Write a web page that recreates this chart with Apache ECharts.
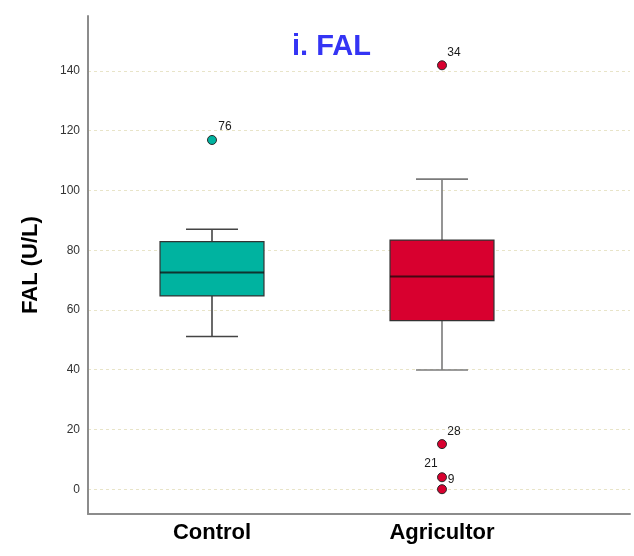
<!DOCTYPE html>
<html>
<head>
<meta charset="utf-8">
<script src="https://cdn.jsdelivr.net/npm/echarts@6/dist/echarts.min.js"></script>
<style>html,body{margin:0;padding:0;background:#fff}#c{width:634px;height:556px}</style>
</head>
<body>
<div id="c"></div>
<script>
// ---- data ----
const categories = ['Control', 'Agricultor'];
// [lower whisker, Q1, median, Q3, upper whisker]
const boxControl = [51.1, 64.7, 72.5, 82.9, 87.0];
const boxAgricultor = [39.9, 56.4, 71.2, 83.4, 103.8];
// outliers: [categoryIndex, value, case label]
const outliersControl = [[0, 116.9, '76']];
const outliersAgricultor = [[1, 141.9, '34'], [1, 15.1, '28'], [1, 4.0, '21'], [1, 0.0, '9']];
const yTickLabels = [0, 20, 40, 60, 80, 100, 120, 140];

// ---- styles ----
const fillColors = ['#00b3a0', '#d8002f'];
const whiskerColors = ['#444444', '#7a7a7a'];
const FONT = 'Liberation Sans, Arial, sans-serif';
const Y_MIN = -8.3, Y_MAX = 158.4;

const boxData = [boxControl, boxAgricultor].map((b, i) => [i].concat(b));

const labelOffsets = {
  '76': [13, -13], '34': [12, -13], '28': [12, -12], '21': [-11, -14], '9': [9, -10]
};
function outlierItems(list, color) {
  return list.map(o => ({
    value: [o[0], o[1]],
    name: o[2],
    itemStyle: { color: color, borderColor: '#2a2a2a', borderWidth: 1, opacity: 1 },
    label: {
      show: true, position: 'inside', formatter: o[2],
      offset: labelOffsets[o[2]] || [10, -10],
      color: '#1a1a1a', fontSize: 12, fontFamily: FONT
    }
  }));
}

const chart = echarts.init(document.getElementById('c'), null, { renderer: 'canvas' });
chart.setOption({
  animation: false,
  backgroundColor: '#ffffff',
  title: {
    text: 'i. FAL', left: 287, top: 27,
    textStyle: { color: '#3434f4', fontSize: 29, fontWeight: 'bold', fontFamily: FONT }
  },
  grid: [
    { left: 88, right: 4, top: 16, bottom: 42 },
    { left: 97, width: 460, top: 16, bottom: 42 }
  ],
  xAxis: [
    {
      gridIndex: 0, type: 'value', min: 0, max: 1,
      axisLine: { show: true, onZero: false, lineStyle: { color: '#8c8c8c', width: 2 } },
      axisTick: { show: false }, axisLabel: { show: false }, splitLine: { show: false }
    },
    {
      gridIndex: 1, type: 'category', data: categories,
      axisLine: { show: false, onZero: false }, axisTick: { show: false }, splitLine: { show: false },
      axisLabel: { color: '#000', fontSize: 22, fontWeight: 'bold', fontFamily: FONT, margin: 8 }
    }
  ],
  yAxis: [
    {
      gridIndex: 0, type: 'value', min: Y_MIN, max: Y_MAX,
      splitNumber: 8, minInterval: 20, maxInterval: 20,
      name: 'FAL (U/L)', nameLocation: 'middle', nameGap: 46,
      nameTextStyle: { color: '#000', fontSize: 22, fontWeight: 'bold', fontFamily: FONT },
      axisLine: { show: true, onZero: false, lineStyle: { color: '#8c8c8c', width: 2 } },
      axisTick: { show: false },
      axisLabel: {
        color: '#333', fontSize: 12, fontFamily: FONT, margin: 8,
        showMinLabel: false, showMaxLabel: false,
        formatter: v => (yTickLabels.indexOf(v) >= 0 ? String(v) : '')
      },
      splitLine: {
        show: true, showMinLine: false, showMaxLine: false,
        lineStyle: { color: '#e8e4c8', type: [3, 3], width: 1 }
      }
    },
    {
      gridIndex: 1, type: 'value', min: Y_MIN, max: Y_MAX, show: false,
      splitLine: { show: false }
    }
  ],
  series: [
    {
      type: 'custom', xAxisIndex: 1, yAxisIndex: 1,
      data: boxData,
      encode: { x: 0, y: [1, 2, 3, 4, 5] },
      renderItem: function (params, api) {
        const idx = api.value(0);
        const lo = api.coord([idx, api.value(1)]);
        const q1 = api.coord([idx, api.value(2)]);
        const md = api.coord([idx, api.value(3)]);
        const q3 = api.coord([idx, api.value(4)]);
        const hi = api.coord([idx, api.value(5)]);
        const band = api.size([1, 0])[0];
        const bw = band * 0.452;
        const cw = bw / 2;
        const cx = lo[0];
        const wc = whiskerColors[idx];
        return {
          type: 'group',
          children: [
            { type: 'line', shape: { x1: cx, y1: q3[1], x2: cx, y2: hi[1] }, style: { stroke: wc, lineWidth: 1.6 } },
            { type: 'line', shape: { x1: cx, y1: q1[1], x2: cx, y2: lo[1] }, style: { stroke: wc, lineWidth: 1.6 } },
            { type: 'line', shape: { x1: cx - cw / 2, y1: hi[1], x2: cx + cw / 2, y2: hi[1] }, style: { stroke: wc, lineWidth: 1.6 } },
            { type: 'line', shape: { x1: cx - cw / 2, y1: lo[1], x2: cx + cw / 2, y2: lo[1] }, style: { stroke: wc, lineWidth: 1.6 } },
            { type: 'rect', shape: { x: cx - bw / 2, y: q3[1], width: bw, height: q1[1] - q3[1] },
              style: { fill: fillColors[idx], stroke: '#333', lineWidth: 1.2 } },
            { type: 'line', shape: { x1: cx - bw / 2, y1: md[1], x2: cx + bw / 2, y2: md[1] },
              style: { stroke: 'rgba(20,10,10,0.75)', lineWidth: 2 } }
          ]
        };
      },
      z: 3
    },
    {
      type: 'scatter', xAxisIndex: 1, yAxisIndex: 1, symbol: 'circle', symbolSize: 9,
      itemStyle: { opacity: 1 },
      data: outlierItems(outliersControl, fillColors[0]), z: 4
    },
    {
      type: 'scatter', xAxisIndex: 1, yAxisIndex: 1, symbol: 'circle', symbolSize: 9,
      itemStyle: { opacity: 1 },
      data: outlierItems(outliersAgricultor, fillColors[1]), z: 4
    }
  ]
});
</script>
</body>
</html>
